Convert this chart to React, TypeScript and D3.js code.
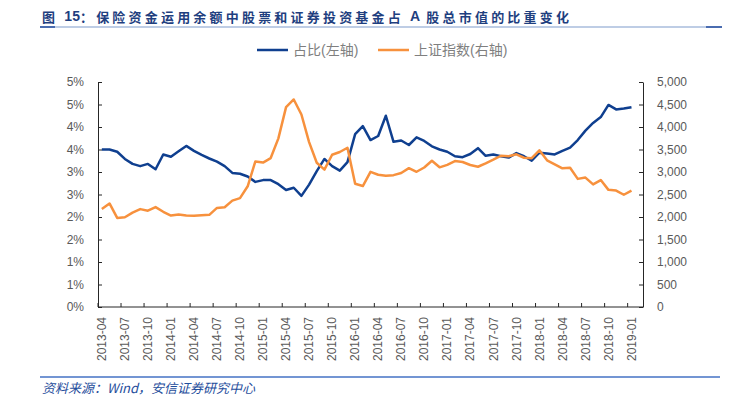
import React, { useEffect, useRef } from 'react';
import * as d3 from 'd3';

// monthly categories, 2013-04 .. 2019-02 (last one is empty)
const categories: string[] = d3
  .timeMonths(new Date(2013, 3, 1), new Date(2019, 2, 1))
  .map(d3.timeFormat('%Y-%m'));

// 占比 (%) left axis
const shareValues: number[] = [
  3.50, 3.50, 3.45, 3.29, 3.18, 3.13, 3.18, 3.06, 3.39, 3.34,
  3.46, 3.58, 3.47, 3.38, 3.30, 3.23, 3.13, 2.98, 2.96, 2.90,
  2.78, 2.82, 2.82, 2.73, 2.60, 2.65, 2.47, 2.72, 3.02, 3.29,
  3.13, 3.03, 3.22, 3.84, 4.02, 3.71, 3.80, 4.25, 3.67, 3.70,
  3.60, 3.77, 3.69, 3.57, 3.50, 3.45, 3.35, 3.33, 3.40, 3.53,
  3.36, 3.39, 3.35, 3.32, 3.42, 3.35, 3.25, 3.43, 3.41, 3.39,
  3.47, 3.54, 3.71, 3.92, 4.09, 4.22, 4.49, 4.39, 4.41, 4.44
];

// 上证指数 right axis
const indexValues: number[] = [
  2177, 2301, 1979, 1994, 2098, 2175, 2141, 2220, 2116, 2033,
  2056, 2033, 2026, 2039, 2048, 2202, 2217, 2364, 2420, 2683,
  3235, 3210, 3310, 3748, 4442, 4612, 4277, 3664, 3206, 3053,
  3383, 3445, 3539, 2738, 2688, 3004, 2938, 2917, 2930, 2979,
  3085, 3005, 3100, 3250, 3104, 3159, 3242, 3223, 3155, 3117,
  3192, 3273, 3361, 3349, 3393, 3317, 3307, 3481, 3259, 3169,
  3082, 3095, 2847, 2876, 2725, 2821, 2603, 2588, 2494, 2585
];

const leftTicks = [0, 0.5, 1, 1.5, 2, 2.5, 3, 3.5, 4, 4.5, 5];
const rightTicks = [0, 500, 1000, 1500, 2000, 2500, 3000, 3500, 4000, 4500, 5000];

// title pieces: [text, isLatin]
const titleParts: [string, boolean][] = [
  ['图 ', false],
  ['15', true],
  ['：保险资金运用余额中股票和证券投资基金占 ', false],
  ['A', true],
  [' 股总市值的比重变化', false]
];
const SOURCE = '资料来源：Wind，安信证券研究中心';
const seriesNames = ['占比(左轴)', '上证指数(右轴)'];

const BLUE = '#0F3F8F';
const ORANGE = '#F7913D';
const FONT = '"Liberation Sans", "Noto Sans CJK SC", sans-serif';

export default function App() {
  const svgRef = useRef<SVGSVGElement>(null);

  useEffect(() => {
    if (!svgRef.current) return;
    const svg = d3.select(svgRef.current);
    svg.selectAll('*').remove();

    const margin = { top: 82, right: 87, bottom: 92, left: 98 };
    const width = 730;
    const height = 399;

    const x = d3.scaleBand<string>()
      .domain(categories)
      .range([margin.left, width - margin.right])
      .padding(0);
    const yLeft = d3.scaleLinear().domain([0, 5]).range([height - margin.bottom, margin.top]);
    const yRight = d3.scaleLinear().domain([0, 5000]).range([height - margin.bottom, margin.top]);
    const cx = (i: number) => (x(categories[i]) as number) + x.bandwidth() / 2;

    svg.append('rect').attr('width', width).attr('height', height).attr('fill', '#fff');

    // Title + rule
    const title = svg.append('text')
      .attr('x', 42)
      .attr('y', 16)
      .attr('dominant-baseline', 'central')
      .style('font-family', '"Noto Sans CJK SC", sans-serif')
      .style('font-size', '13px')
      .style('font-weight', 'bold')
      .style('fill', '#1F3F7F');
    titleParts.forEach(([t, latin]) => {
      title.append('tspan')
        .style('letter-spacing', latin ? '0px' : '3.2px')
        .style('font-family', latin ? '"Liberation Sans", sans-serif' : '"Noto Sans CJK SC", sans-serif')
        .style('font-size', latin ? '14px' : '13px')
        .text(t);
    });
    svg.append('line')
      .attr('x1', 40).attr('x2', 722).attr('y1', 27).attr('y2', 27)
      .style('stroke', '#7F9BCB').style('stroke-width', 1.2);
    svg.append('line')
      .attr('x1', 40).attr('x2', 55).attr('y1', 27).attr('y2', 27)
      .style('stroke', '#4A6CB0').style('stroke-width', 2);
    svg.append('line')
      .attr('x1', 706).attr('x2', 722).attr('y1', 27).attr('y2', 27)
      .style('stroke', '#4A6CB0').style('stroke-width', 2);

    // Legend
    const legend = [
      { name: seriesNames[0], color: BLUE, x0: 257 },
      { name: seriesNames[1], color: ORANGE, x0: 378 }
    ];
    legend.forEach(l => {
      svg.append('line')
        .attr('x1', l.x0).attr('x2', l.x0 + 31).attr('y1', 50).attr('y2', 50)
        .style('stroke', l.color).style('stroke-width', 2.5);
      svg.append('text')
        .attr('x', l.x0 + 36)
        .attr('y', 50)
        .attr('dominant-baseline', 'central')
        .style('font-family', FONT)
        .style('font-size', '14px')
        .style('fill', '#7F7F7F')
        .text(l.name);
    });

    // Left axis
    const leftAxis = svg.append('g')
      .attr('transform', `translate(${margin.left},0)`)
      .call(d3.axisLeft(yLeft)
        .tickValues(leftTicks)
        .tickSize(-4)
        .tickSizeOuter(0)
        .tickPadding(14)
        .tickFormat((d: any) => `${Math.round(d)}%`));

    // Right axis
    const rightAxis = svg.append('g')
      .attr('transform', `translate(${width - margin.right},0)`)
      .call(d3.axisRight(yRight)
        .tickValues(rightTicks)
        .tickSize(-4)
        .tickSizeOuter(0)
        .tickPadding(14)
        .tickFormat(d3.format(',') as any));

    [leftAxis, rightAxis].forEach(a => {
      a.selectAll('.domain').style('stroke', '#262626');
      a.selectAll('.tick line').style('stroke', '#262626');
      a.selectAll('.tick text')
        .style('fill', '#595959')
        .style('font-size', '12px')
        .style('font-family', FONT);
    });

    // Bottom axis
    const yBase = height - margin.bottom;
    svg.append('line')
      .attr('x1', margin.left).attr('x2', width - margin.right)
      .attr('y1', yBase).attr('y2', yBase)
      .style('stroke', '#262626');
    const labelIdx = d3.range(0, shareValues.length, 3);
    svg.append('g').selectAll('line')
      .data(labelIdx)
      .enter()
      .append('line')
      .attr('x1', i => x(categories[i]) as number)
      .attr('x2', i => x(categories[i]) as number)
      .attr('y1', yBase)
      .attr('y2', yBase - 4)
      .style('stroke', '#262626');
    svg.append('g').selectAll('text')
      .data(labelIdx)
      .enter()
      .append('text')
      .attr('transform', i => `translate(${cx(i)},${yBase + 10}) rotate(-90)`)
      .attr('text-anchor', 'end')
      .attr('dy', '0.35em')
      .style('font-family', FONT)
      .style('font-size', '12px')
      .style('fill', '#595959')
      .text(i => categories[i]);

    // Lines
    const shareLine = d3.line<number>().x((_, i) => cx(i)).y(d => yLeft(d));
    const indexLine = d3.line<number>().x((_, i) => cx(i)).y(d => yRight(d));

    svg.append('path')
      .datum(shareValues)
      .attr('d', shareLine)
      .style('fill', 'none')
      .style('stroke', BLUE)
      .style('stroke-width', 2.5)
      .style('stroke-linejoin', 'round');

    svg.append('path')
      .datum(indexValues)
      .attr('d', indexLine)
      .style('fill', 'none')
      .style('stroke', ORANGE)
      .style('stroke-width', 2.5)
      .style('stroke-linejoin', 'round');

    // Source line + note
    svg.append('line')
      .attr('x1', 40).attr('x2', 720).attr('y1', 377).attr('y2', 377)
      .style('stroke', '#4472C4').style('stroke-width', 1.5);
    svg.append('text')
      .attr('x', 42)
      .attr('y', 387)
      .attr('dominant-baseline', 'central')
      .style('font-family', '"Noto Sans CJK SC", sans-serif')
      .style('font-size', '13px')
      .style('font-style', 'italic')
      .style('fill', '#1F4E9C')
      .text(SOURCE);
  }, []);

  return (
    <svg
      ref={svgRef}
      width={730}
      height={399}
      style={{ position: 'absolute', left: 0, top: 0 }}
    />
  );
}
